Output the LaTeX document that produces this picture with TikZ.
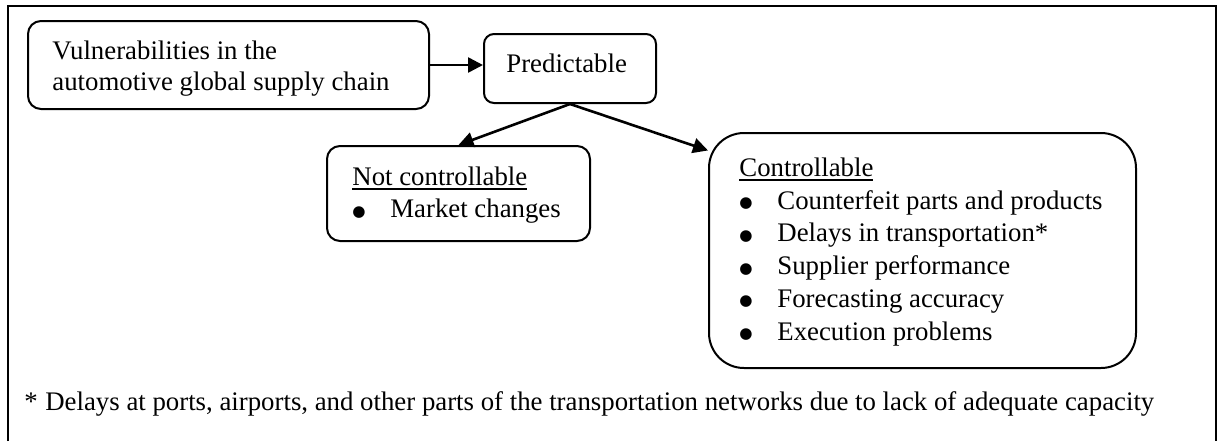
\documentclass[tikz,border=0pt]{standalone}
\usepackage{fontspec}
\setmainfont{Liberation Serif}
\newfontfamily\bulletfont{DejaVu Sans}
\usetikzlibrary{arrows.meta}

% heading with a heavier underline
\newcommand\ulword[1]{\setbox0\hbox{#1}\rlap{\rule[-2.3pt]{\wd0}{0.9pt}}\box0}
% bullet column of the lists
\newcommand\itembullet{\makebox[19pt][l]{\raisebox{0.8pt}{\bulletfont\fontsize{7.6}{7.6}\selectfont ●}}}

\begin{document}
\begin{tikzpicture}[x=0.5pt,y=-0.5pt,
  box/.style={draw, line width=1pt, inner sep=0pt, anchor=north west},
  txt/.style={inner sep=0pt, anchor=base west,
    font=\fontsize{13.4}{16.35}\selectfont},
  arr/.style={line width=1.3pt, -{Triangle[length=7.5pt,width=7.5pt]}}]

\useasboundingbox (0,0) rectangle (1223,441);

% outer frame
\draw[line width=1pt] (8,441) -- (8,6) -- (1216,6) -- (1216,441);

% boxes
\node[box, rounded corners=6.5pt, minimum width=200.5pt, minimum height=44pt] (b1) at (27,20) {};
\node[box, rounded corners=5pt, minimum width=86pt, minimum height=34.5pt] (b2) at (483,33) {};
\node[box, rounded corners=6.5pt, minimum width=131.5pt, minimum height=47.5pt] (b3) at (326,145) {};
\node[box, rounded corners=17.5pt, minimum width=213.5pt, minimum height=117.5pt] (b4) at (708,132) {};

% box texts
\node[txt, font=\fontsize{13.4}{15.5}\selectfont] (t1) at (52,59)
  {\begin{tabular}[t]{@{}l@{}}Vulnerabilities in the\\automotive global supply chain\end{tabular}};
\node[txt] (t2) at (506,72) {Predictable};
\node[txt] (t3) at (352,185)
  {\begin{tabular}[t]{@{}l@{}}\ulword{Not controllable}\\\itembullet Market changes\end{tabular}};
\node[txt] (t4) at (739,176.5)
  {\begin{tabular}[t]{@{}l@{}}\ulword{Controllable}\\
   \itembullet Counterfeit parts and products\\
   \itembullet Delays in transportation*\\
   \itembullet Supplier performance\\
   \itembullet Forecasting accuracy\\
   \itembullet Execution problems\end{tabular}};

% footnote
\node[txt] (fn) at (24,410)
  {\makebox[10.5pt][l]{*}Delays at ports, airports, and other parts of the transportation networks due to lack of adequate capacity};

% connectors
\draw[arr] (b1.east) -- (b1.east -| b2.west);
\draw[arr] (b2.south) -- (b3.north);
\draw[arr] (b2.south) -- (b4.155);
\end{tikzpicture}
\end{document}
